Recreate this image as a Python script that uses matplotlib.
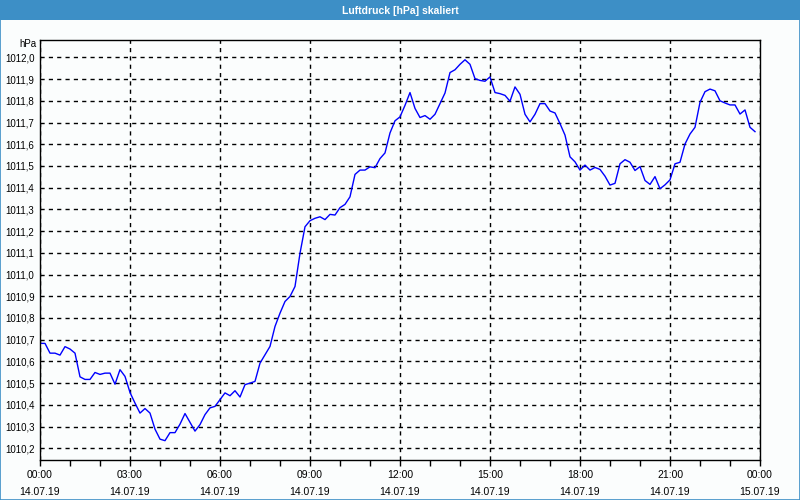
import numpy as np
import matplotlib
matplotlib.use('Agg')
from matplotlib import pyplot as plt
from matplotlib.patches import Rectangle

# Luftdruck in 10-Minuten-Schritten ab 14.07.19 00:00
pressure_hpa = [
    1010.683, 1010.683, 1010.638, 1010.638, 1010.629, 1010.668, 1010.657, 1010.638, 1010.529, 1010.517,
    1010.517, 1010.549, 1010.540, 1010.546, 1010.546, 1010.495, 1010.562, 1010.531, 1010.457, 1010.408,
    1010.362, 1010.383, 1010.362, 1010.288, 1010.242, 1010.235, 1010.272, 1010.272, 1010.311, 1010.360,
    1010.320, 1010.279, 1010.309, 1010.355, 1010.386, 1010.393, 1010.424, 1010.455, 1010.442, 1010.465,
    1010.436, 1010.493, 1010.500, 1010.508, 1010.592, 1010.631, 1010.669, 1010.761, 1010.822, 1010.876,
    1010.899, 1010.945, 1011.098, 1011.220, 1011.248, 1011.259, 1011.266, 1011.253, 1011.277, 1011.274,
    1011.308, 1011.323, 1011.358, 1011.461, 1011.481, 1011.481, 1011.496, 1011.492, 1011.534, 1011.560,
    1011.652, 1011.708, 1011.726, 1011.779, 1011.838, 1011.765, 1011.723, 1011.732, 1011.715, 1011.738,
    1011.787, 1011.836, 1011.930, 1011.943, 1011.968, 1011.989, 1011.968, 1011.902, 1011.894, 1011.890,
    1011.910, 1011.838, 1011.833, 1011.825, 1011.798, 1011.864, 1011.830, 1011.738, 1011.703, 1011.738,
    1011.787, 1011.787, 1011.753, 1011.744, 1011.695, 1011.642, 1011.542, 1011.519, 1011.481, 1011.504,
    1011.481, 1011.493, 1011.484, 1011.453, 1011.412, 1011.420, 1011.510, 1011.529, 1011.517, 1011.479,
    1011.497, 1011.433, 1011.415, 1011.451, 1011.395, 1011.413, 1011.436, 1011.510, 1011.517, 1011.601,
    1011.647, 1011.678, 1011.793, 1011.842, 1011.854, 1011.846, 1011.800, 1011.790, 1011.781, 1011.781,
    1011.739, 1011.758, 1011.678, 1011.658,
]
step_minutes = 10

x_tick_hours = [0, 3, 6, 9, 12, 15, 18, 21, 24]
x_tick_labels = ['00:00\n14.07.19', '03:00\n14.07.19', '06:00\n14.07.19', '09:00\n14.07.19',
                 '12:00\n14.07.19', '15:00\n14.07.19', '18:00\n14.07.19', '21:00\n14.07.19',
                 '00:00\n15.07.19']
y_ticks = [1010.2, 1010.3, 1010.4, 1010.5, 1010.6, 1010.7, 1010.8, 1010.9, 1011.0,
           1011.1, 1011.2, 1011.3, 1011.4, 1011.5, 1011.6, 1011.7, 1011.8, 1011.9, 1012.0]

title = 'Luftdruck [hPa] skaliert'
bar_blue = '#3d8fc6'
bg = '#fbfdfd'

plt.rcParams['font.family'] = ['Liberation Sans', 'DejaVu Sans']

hours = np.arange(len(pressure_hpa)) * step_minutes / 60.0

fig = plt.figure(figsize=(8, 5), dpi=100, facecolor=bg)
ax = fig.add_axes([0.05, 0.08, 0.90, 0.84], facecolor=bg)

ax.plot(hours, pressure_hpa, color='#0000ff', linewidth=1.0)

ax.set_xlim(0, 24)
ax.set_ylim(1010.146, 1012.08)

ax.set_xticks(x_tick_hours)
ax.set_xticklabels(x_tick_labels, linespacing=1.85)
ax.set_xticks(range(0, 25), minor=True)
ax.set_yticks(y_ticks)
ax.set_yticklabels([f'{v:.1f}'.replace('.', ',') for v in y_ticks])

ax.tick_params(axis='x', which='both', direction='out', length=4, width=1, pad=3,
               labelsize=7.5, colors='black')
ax.tick_params(axis='y', length=0, pad=4, labelsize=7)

ax.grid(True, which='major', color='black', linestyle=(0, (3, 3)), linewidth=1.0)
for s in ax.spines.values():
    s.set_color('black')
    s.set_linewidth(1.0)

fig.text(36 / 800, 1 - 44 / 500, 'hPa', ha='right', va='center', fontsize=7)

# Titelleiste und Rahmen
fig.patches.append(Rectangle((0, 0.96), 1, 0.04, transform=fig.transFigure,
                             facecolor=bar_blue, edgecolor='none', zorder=0))
fig.text(0.5, 0.979, title, ha='center', va='center', color='white',
         fontsize=7.5, fontweight='bold')
fig.patches.append(Rectangle((0.0006, 0.001), 0.9988, 0.998, transform=fig.transFigure,
                             facecolor='none', edgecolor=bar_blue, linewidth=1.2, zorder=5))

fig.savefig('out.png', dpi=100, facecolor=bg)
